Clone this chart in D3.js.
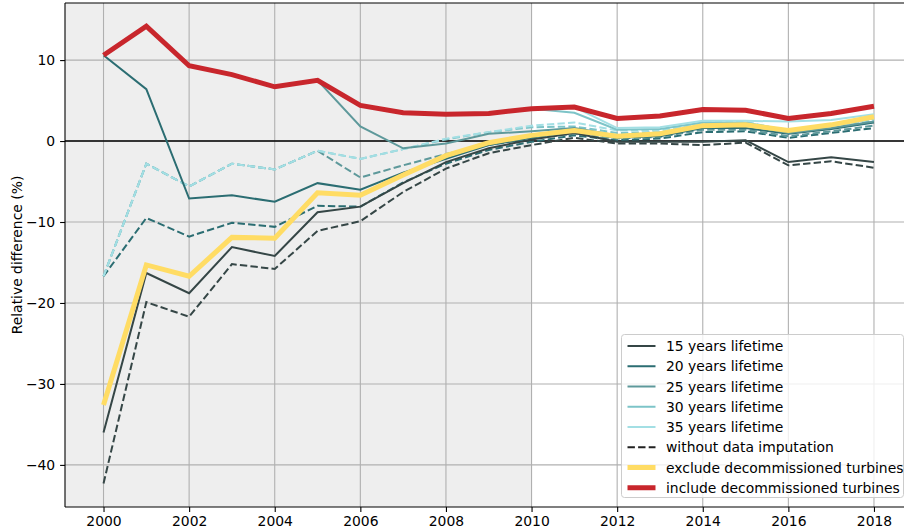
<!DOCTYPE html>
<html>
<head>
<meta charset="utf-8">
<script src="https://cdn.jsdelivr.net/npm/d3@7"></script>
<style>
  body { margin: 0; background: #fff; }
  svg { display: block; font-family: "DejaVu Sans", sans-serif; }
</style>
</head>
<body>
<div class="chart"></div>
<script>
var years = [2000, 2001, 2002, 2003, 2004, 2005, 2006, 2007, 2008, 2009,
             2010, 2011, 2012, 2013, 2014, 2015, 2016, 2017, 2018];

// solid lines: with data imputation
var life15 = [-36.0, -16.3, -18.8, -13.1, -14.2, -8.8, -8.1, -5.2, -2.6, -0.9, 0.2, 1.0, -0.1, -0.1, -0.1, 0.1, -2.6, -2.0, -2.6];
var life20 = [10.6, 6.4, -7.1, -6.7, -7.5, -5.2, -6.0, -3.9, -2.2, -0.5, 0.4, 1.2, 0.4, 0.6, 1.6, 1.6, 0.9, 1.5, 2.3];
var life25 = [10.6, 14.2, 9.3, 8.2, 6.7, 7.5, 1.8, -0.9, -0.3, 0.9, 1.2, 1.6, 0.7, 0.9, 1.9, 2.0, 1.0, 1.6, 2.4];
var life30 = [10.6, 14.2, 9.3, 8.2, 6.7, 7.5, 4.4, 3.5, 3.3, 3.4, 4.0, 3.5, 1.4, 1.5, 2.3, 2.3, 1.3, 1.9, 2.8];
var life35 = [10.6, 14.2, 9.3, 8.2, 6.7, 7.5, 4.4, 3.5, 3.3, 3.4, 4.0, 4.2, 1.6, 1.7, 2.5, 2.5, 2.4, 2.6, 3.3];

// dashed lines: without data imputation
var noImp15 = [-42.3, -19.9, -21.7, -15.2, -15.8, -11.1, -9.9, -6.3, -3.4, -1.5, -0.5, 0.4, -0.3, -0.3, -0.5, -0.2, -3.0, -2.5, -3.3];
var noImp20 = [-16.7, -9.5, -11.8, -10.1, -10.6, -8.0, -8.1, -5.1, -2.8, -1.1, -0.1, 0.7, 0.1, 0.3, 1.1, 1.2, 0.4, 1.0, 1.6];
var noImp25 = [-16.7, -2.8, -5.6, -2.8, -3.5, -1.2, -4.5, -3.0, -1.6, -0.5, 0.3, 0.9, 0.3, 0.5, 1.4, 1.4, 0.6, 1.2, 1.9];
var noImp30 = [-16.7, -2.8, -5.6, -2.8, -3.5, -1.2, -2.2, -1.0, 0.2, 1.1, 1.7, 1.8, 1.0, 1.1, 2.1, 2.2, 1.0, 1.6, 2.5];
var noImp35 = [-16.7, -2.8, -5.6, -2.8, -3.5, -1.2, -2.2, -1.0, 0.3, 1.1, 1.9, 2.3, 1.3, 1.3, 2.3, 2.4, 1.2, 1.8, 2.7];

var excludeDecom = [-32.6, -15.3, -16.7, -11.9, -12.0, -6.4, -6.7, -4.2, -1.8, -0.2, 0.7, 1.3, 0.6, 0.9, 1.9, 2.0, 1.3, 2.0, 3.0];
var includeDecom = [10.6, 14.2, 9.3, 8.2, 6.7, 7.5, 4.4, 3.5, 3.3, 3.4, 4.0, 4.2, 2.8, 3.1, 3.9, 3.8, 2.8, 3.4, 4.3];

var xTicks = [2000, 2002, 2004, 2006, 2008, 2010, 2012, 2014, 2016, 2018];
var yTicks = [-40, -30, -20, -10, 0, 10];
var lifetimes = ['15', '20', '25', '30', '35'];
var lifeColors = ['#354646', '#2b6d72', '#5e999b', '#7dc4c8', '#a3dfe4'];

var W = 904, H = 531;
var margin = { top: 3, left: 65, bottom: 24 };
var plotRight = 912.5; // axes run past the cropped right edge

var svg = d3.select('.chart')
  .append('svg')
    .attr('width', W)
    .attr('height', H);

var xScale = d3.scaleLinear()
  .domain([1999.1, 2018.9])
  .range([margin.left, plotRight]);

var yScale = d3.scaleLinear()
  .domain([-45.2, 17.05])
  .range([H - margin.bottom, margin.top]);

var y0 = yScale.range()[0], y1 = yScale.range()[1];

// shaded period before 2010
svg.append('rect')
  .attr('x', xScale(1999.1))
  .attr('y', y1)
  .attr('width', xScale(2010) - xScale(1999.1))
  .attr('height', y0 - y1)
  .style('fill', '#eeeeee');

// grid
svg.append('g')
  .selectAll('line')
  .data(xTicks)
  .enter().append('line')
    .attr('x1', d => xScale(d)).attr('x2', d => xScale(d))
    .attr('y1', y1).attr('y2', y0)
    .style('stroke', '#b0b0b0').style('stroke-width', 1.1);
svg.append('g')
  .selectAll('line')
  .data(yTicks)
  .enter().append('line')
    .attr('x1', margin.left).attr('x2', plotRight)
    .attr('y1', d => yScale(d)).attr('y2', d => yScale(d))
    .style('stroke', '#b0b0b0').style('stroke-width', 1.1);

// zero line
svg.append('line')
  .attr('x1', margin.left).attr('x2', plotRight)
  .attr('y1', yScale(0)).attr('y2', yScale(0))
  .style('stroke', '#000').style('stroke-width', 1.4);

var line = d3.line()
  .x((d, i) => xScale(years[i]))
  .y(d => yScale(d));

var dashed = [noImp15, noImp20, noImp25, noImp30, noImp35];
var solid = [life15, life20, life25, life30, life35];

dashed.forEach(function (s, i) {
  svg.append('path')
    .attr('d', line(s))
    .style('fill', 'none')
    .style('stroke', lifeColors[i])
    .style('stroke-width', 2)
    .style('stroke-dasharray', '7.4,3.2');
});
solid.forEach(function (s, i) {
  svg.append('path')
    .attr('d', line(s))
    .style('fill', 'none')
    .style('stroke', lifeColors[i])
    .style('stroke-width', 2);
});

svg.append('path')
  .attr('d', line(excludeDecom))
  .style('fill', 'none')
  .style('stroke', '#ffdc64')
  .style('stroke-width', 5);

svg.append('path')
  .attr('d', line(includeDecom))
  .style('fill', 'none')
  .style('stroke', '#c8262c')
  .style('stroke-width', 5);

// axes
var xAxis = svg.append('g')
  .attr('transform', 'translate(0,' + y0 + ')')
  .call(d3.axisBottom(xScale).tickValues(xTicks).tickFormat(d3.format('d'))
    .tickSizeInner(4.9).tickSizeOuter(0).tickPadding(4));
var yAxis = svg.append('g')
  .attr('transform', 'translate(' + margin.left + ',0)')
  .call(d3.axisLeft(yScale).tickValues(yTicks).tickFormat(d => d < 0 ? '\u2212' + Math.abs(d) : d)
    .tickSizeInner(4.9).tickSizeOuter(0).tickPadding(4.9));
[xAxis, yAxis].forEach(function (a) {
  a.select('.domain').remove();
  a.selectAll('.tick line').style('stroke', '#000').style('stroke-width', 1.1);
  a.selectAll('text').style('font-size', '13.9px').style('fill', '#000')
    .style('font-family', '"DejaVu Sans", sans-serif');
});

// spines
svg.append('line').attr('x1', margin.left).attr('x2', margin.left).attr('y1', y1).attr('y2', y0)
  .style('stroke', '#000').style('stroke-width', 1.1);
svg.append('line').attr('x1', margin.left).attr('x2', plotRight).attr('y1', y0).attr('y2', y0)
  .style('stroke', '#000').style('stroke-width', 1.1);
svg.append('line').attr('x1', margin.left).attr('x2', plotRight).attr('y1', y1).attr('y2', y1)
  .style('stroke', '#000').style('stroke-width', 1.1);

svg.append('text')
  .attr('transform', 'translate(22,' + ((y0 + y1) / 2) + ') rotate(-90)')
  .attr('text-anchor', 'middle')
  .style('font-size', '13.9px')
  .text('Relative difference (%)');

// legend
var legendItems = lifetimes.map(function (l, i) {
  return { label: l + ' years lifetime', color: lifeColors[i], width: 2, dash: null };
}).concat([
  { label: 'without data imputation', color: '#222', width: 2, dash: '7.4,3.2' },
  { label: 'exclude decommissioned turbines', color: '#ffdc64', width: 5, dash: null },
  { label: 'include decommissioned turbines', color: '#c8262c', width: 5, dash: null }
]);

var lg = svg.append('g').attr('transform', 'translate(621.5,334.5)');
lg.append('rect')
  .attr('width', 282).attr('height', 163)
  .attr('rx', 3)
  .style('fill', '#fff').style('fill-opacity', 0.8)
  .style('stroke', '#cccccc').style('stroke-width', 1);

var rows = lg.selectAll('g.row')
  .data(legendItems)
  .enter().append('g')
    .attr('transform', (d, i) => 'translate(0,' + (11.5 + i * 20.25) + ')');
rows.append('line')
  .attr('x1', 6).attr('x2', 34)
  .style('stroke', d => d.color)
  .style('stroke-width', d => d.width)
  .style('stroke-dasharray', d => d.dash);
rows.append('text')
  .attr('x', 44.5).attr('y', 0)
  .attr('dy', '0.36em')
  .style('font-size', '13.9px')
  .text(d => d.label);
</script>
</body>
</html>
